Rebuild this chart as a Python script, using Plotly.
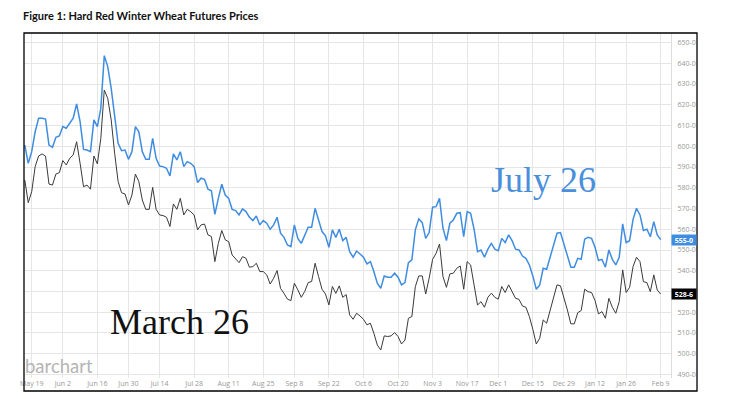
import pandas as pd
import plotly.graph_objects as go

# ---- data (daily settlements) ----
start_date = "2025-05-15"
end_date = "2026-02-09"
holidays = ["2025-05-26", "2025-06-19", "2025-07-04", "2025-09-01",
            "2025-11-27", "2025-12-25", "2026-01-01", "2026-01-19"]

july26 = [
    600.6, 591.8, 597.4, 607.0, 613.5, 613.5, 613.1, 600.6, 599.5, 604.3,
    605.0, 609.5, 608.7, 611.4, 613.5, 620.4, 611.9, 598.5, 598.2, 597.4,
    612.7, 609.5, 618.3, 643.7, 638.4, 627.9, 614.3, 601.4, 597.9, 598.2,
    593.7, 597.4, 609.5, 607.0, 597.4, 593.7, 593.7, 603.8, 594.2, 590.5,
    590.2, 589.4, 585.7, 596.3, 593.4, 597.4, 590.2, 592.6, 591.8, 590.2,
    582.5, 584.6, 584.1, 579.3, 578.5, 567.2, 574.9, 581.7, 576.5, 574.9,
    569.6, 569.0, 566.9, 569.8, 568.5, 565.8, 564.2, 566.4, 562.1, 564.2,
    562.9, 560.0, 562.1, 565.8, 558.1, 556.1, 552.4, 551.6, 562.1, 555.6,
    553.2, 556.8, 561.0, 561.0, 570.1, 564.5, 558.9, 556.8, 551.3, 559.7,
    556.1, 560.0, 554.5, 556.1, 549.2, 546.5, 549.5, 548.1, 546.5, 543.3,
    544.4, 539.6, 534.0, 531.5, 537.5, 536.9, 536.9, 538.8, 536.9, 533.2,
    534.3, 543.9, 545.2, 559.7, 565.0, 563.2, 555.6, 558.4, 570.6, 570.9,
    574.9, 560.5, 554.5, 562.9, 564.5, 567.7, 568.0, 556.4, 568.5, 567.7,
    560.0, 549.2, 550.0, 546.5, 550.4, 553.2, 550.4, 549.7, 555.6, 553.6,
    557.3, 554.5, 550.4, 550.0, 547.1, 546.0, 542.8, 537.5, 531.1, 533.2,
    541.2, 540.7, 546.5, 552.0, 558.1, 558.4, 552.9, 547.6, 541.7, 541.7,
    546.0, 545.5, 555.2, 556.1, 555.6, 551.3, 544.9, 545.5, 541.7, 550.0,
    545.5, 542.8, 546.5, 562.6, 553.6, 554.5, 564.8, 570.1, 566.9, 559.4,
    560.0, 556.4, 563.7, 557.3, 555.0,
]

march26 = [
    583.7, 572.8, 578.1, 590.2, 595.3, 596.3, 595.3, 581.8, 581.3, 586.6,
    587.3, 593.1, 591.0, 594.2, 595.8, 602.2, 591.8, 580.5, 581.3, 579.3,
    595.3, 591.5, 603.8, 627.1, 623.1, 612.7, 596.6, 583.0, 577.6, 577.0,
    571.7, 576.5, 586.6, 583.0, 574.1, 569.6, 569.6, 580.2, 569.6, 566.9,
    566.6, 565.8, 561.3, 572.2, 569.6, 574.9, 566.9, 569.6, 568.5, 566.9,
    559.7, 562.1, 562.5, 557.3, 556.5, 544.4, 553.2, 559.4, 554.9, 554.0,
    547.6, 546.0, 543.9, 546.8, 546.0, 541.7, 542.0, 543.6, 539.6, 539.6,
    538.0, 533.6, 536.4, 540.1, 531.5, 529.1, 526.3, 525.6, 534.0, 530.8,
    527.2, 530.0, 534.3, 534.8, 543.6, 537.2, 531.1, 528.8, 523.5, 532.4,
    529.1, 532.7, 527.2, 528.5, 518.7, 516.6, 519.5, 518.2, 516.6, 513.9,
    514.7, 509.9, 504.2, 501.8, 508.6, 508.3, 508.6, 510.2, 508.3, 504.7,
    506.6, 517.1, 517.9, 532.3, 537.5, 537.5, 528.8, 536.4, 545.5, 548.4,
    552.9, 537.2, 532.0, 538.5, 538.8, 541.2, 542.3, 531.1, 544.4, 542.8,
    534.0, 523.5, 525.1, 522.4, 527.2, 529.2, 527.2, 526.3, 532.4, 529.5,
    533.2, 529.9, 526.7, 526.2, 523.0, 522.4, 517.9, 511.8, 504.7, 507.5,
    516.3, 514.7, 520.8, 526.7, 533.2, 532.7, 527.5, 521.1, 514.4, 514.4,
    519.8, 520.8, 531.1, 529.9, 529.5, 525.6, 519.2, 520.3, 517.1, 526.7,
    522.4, 519.5, 525.1, 540.4, 529.5, 532.0, 542.0, 546.5, 544.4, 534.7,
    534.3, 529.9, 538.0, 530.7, 528.75,
]

x_tick_dates = ["2025-05-19", "2025-06-02", "2025-06-16", "2025-06-30", "2025-07-14",
                "2025-07-28", "2025-08-11", "2025-08-25", "2025-09-08", "2025-09-22",
                "2025-10-06", "2025-10-20", "2025-11-03", "2025-11-17", "2025-12-01",
                "2025-12-15", "2025-12-29", "2026-01-12", "2026-01-26", "2026-02-09"]
x_tick_text = ["May 19", "Jun 2", "Jun 16", "Jun 30", "Jul 14", "Jul 28", "Aug 11",
               "Aug 25", "Sep 8", "Sep 22", "Oct 6", "Oct 20", "Nov 3", "Nov 17",
               "Dec 1", "Dec 15", "Dec 29", "Jan 12", "Jan 26", "Feb 9"]
y_tick_vals = [490, 500, 510, 520, 530, 540, 550, 560, 570, 580, 590, 600,
               610, 620, 630, 640, 650]
y_tick_text = ["490-0", "500-0", "510-0", "520-0", "530-0", "540-0", "550-0",
               "560-0", "570-0", "580-0", "590-0", "600-0", "610-0", "620-0",
               "630-0", "640-0", "650-0"]
last_labels = ["555-0", "528-6"]

# trading-day calendar
dates = [d for d in pd.bdate_range(start_date, end_date)
         if d.strftime("%Y-%m-%d") not in holidays]

BLUE = "#3f8de0"
DARK = "#3a3a3a"
GRID = "#e6e6e6"

fig = go.Figure()
fig.add_trace(go.Scatter(x=dates, y=march26, mode="lines",
                         line=dict(color=DARK, width=1), name="March 26",
                         showlegend=False))
fig.add_trace(go.Scatter(x=dates, y=july26, mode="lines",
                         line=dict(color=BLUE, width=1.5), name="July 26",
                         showlegend=False))

# the page body adds an 8px offset, so the figure is laid out 8px up/left
fig.update_layout(
    width=743, height=391,
    margin=dict(l=16, r=80, t=25, b=21),
    paper_bgcolor="white", plot_bgcolor="white",
    font=dict(family="Open Sans", size=7, color="#999999"),
    xaxis=dict(
        type="date",
        range=["2025-05-14 18:30", "2026-02-11 23:30"],
        rangebreaks=[dict(bounds=["sat", "mon"]), dict(values=holidays)],
        tickvals=x_tick_dates, ticktext=x_tick_text,
        showgrid=True, gridcolor=GRID, gridwidth=1,
        zeroline=False, showline=False, ticks="",
        tickfont=dict(family="Open Sans", size=7, color="#999999"),
    ),
    yaxis=dict(
        side="right", range=[488.3, 654.6],
        tickvals=y_tick_vals, ticktext=y_tick_text,
        showgrid=True, gridcolor=GRID, gridwidth=1,
        zeroline=False, showline=True, linecolor="#dddddd", linewidth=1,
        ticks="", ticklabelstandoff=4,
        tickfont=dict(family="Open Sans", size=7, color="#999999"),
    ),
)

# outer frame
fig.add_shape(type="rect", xref="paper", yref="paper",
              x0=0, x1=1.0402, y0=-0.0377, y1=1,
              line=dict(color="black", width=1.3), fillcolor="rgba(0,0,0,0)")

annotations = [
    dict(text="<b>Figure 1: Hard Red Winter Wheat Futures Prices</b>",
         xref="paper", yref="paper", x=-0.003, y=1.0715, xanchor="left", yanchor="top",
         showarrow=False, borderpad=0,
         font=dict(family="Lato", size=11, color="#111111")),
    dict(text="July 26", xref="paper", yref="paper", x=0.8037, y=0.574,
         xanchor="center", yanchor="middle", showarrow=False,
         font=dict(family="Liberation Serif", size=36, color="#4a8fdb")),
    dict(text="March 26", xref="paper", yref="paper", x=0.2396, y=0.162,
         xanchor="center", yanchor="middle", showarrow=False,
         font=dict(family="Liberation Serif", size=36, color="#111111")),
    dict(text="barchart", xref="paper", yref="paper", x=-0.001, y=0.034,
         xanchor="left", yanchor="middle", showarrow=False,
         font=dict(family="Lato", size=18.5, color="#b5b5b5")),
    dict(text="<b>%s</b>" % last_labels[0], xref="paper", yref="y", x=1, y=july26[-1],
         xanchor="left", yanchor="middle", showarrow=False, bgcolor=BLUE,
         width=22, height=8, borderpad=1,
         font=dict(family="Open Sans", size=7, color="white")),
    dict(text="<b>%s</b>" % last_labels[1], xref="paper", yref="y", x=1, y=march26[-1],
         xanchor="left", yanchor="middle", showarrow=False, bgcolor="black",
         width=22, height=8, borderpad=1,
         font=dict(family="Open Sans", size=7, color="white")),
]
fig.update_layout(annotations=annotations)

fig.write_html("out.html")
